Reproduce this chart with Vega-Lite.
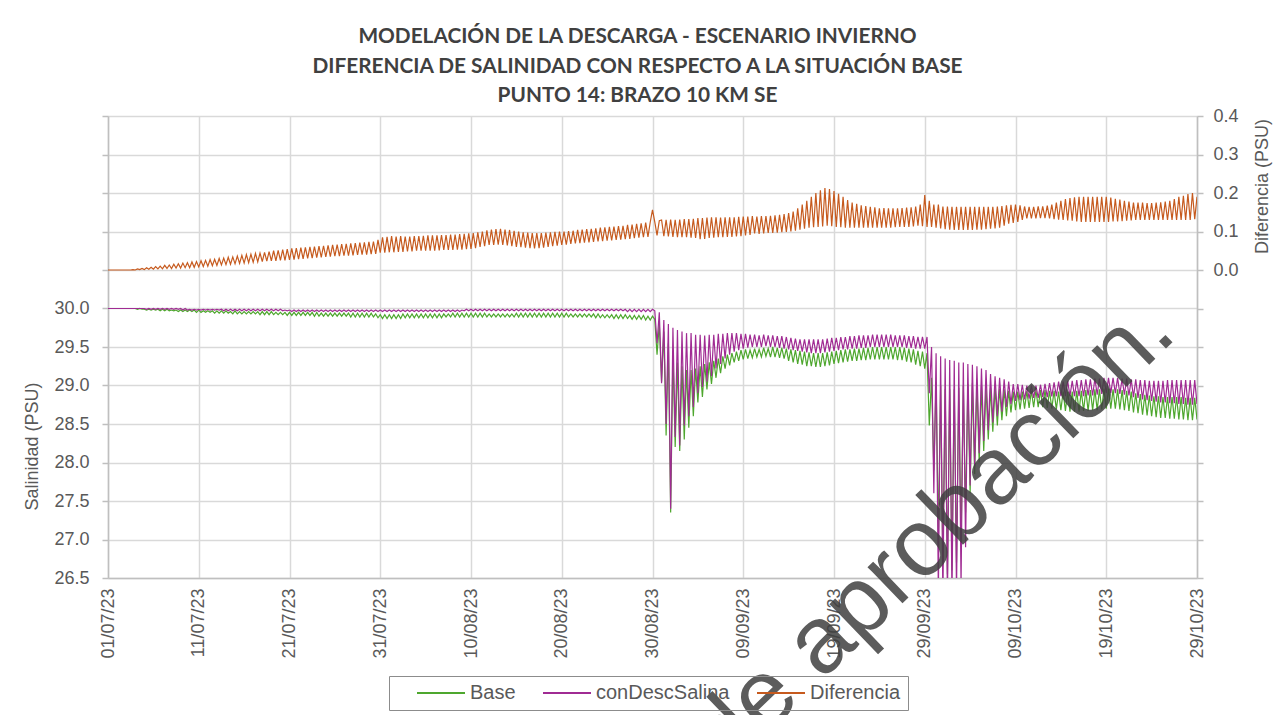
{
"$schema": "https://vega.github.io/schema/vega-lite/v6.json",
"width": 1089,
"height": 462,
"autosize": {"type": "none"},
"padding": {"left": 108, "top": 116, "right": 91, "bottom": 137},
"background": "white",
"title": {
 "text": ["MODELACIÓN DE LA DESCARGA - ESCENARIO INVIERNO", "DIFERENCIA DE SALINIDAD CON RESPECTO A LA SITUACIÓN BASE", "PUNTO 14: BRAZO 10 KM SE"],
 "font": "Lato", "fontSize": 20.8, "fontWeight": "bold", "color": "#404040", "lineHeight": 29.5, "anchor": "middle", "dx": -15, "offset": 0
},
"config": {
 "view": {"stroke": null},
 "axis": {"labelFont": "Liberation Sans", "labelFontSize": 18, "labelColor": "#595959", "titleFont": "Liberation Sans", "titleFontSize": 18, "titleColor": "#595959", "titleFontWeight": "normal", "gridColor": "#d9d9d9", "gridWidth": 1.5, "domainColor": "#bfbfbf", "domainWidth": 1.5, "tickColor": "#bfbfbf", "tickWidth": 1.5, "labelOverlap": false}
},
"datasets": {"serie": [
{"day":0,"b":30,"c":30,"d":0},{"day":0.25,"b":30,"c":30,"d":0},{"day":0.5,"b":30,"c":30,"d":0},{"day":0.75,"b":30,"c":30,"d":0},
{"day":1,"b":30,"c":30,"d":0},{"day":1.25,"b":30,"c":30,"d":0},{"day":1.5,"b":30,"c":30,"d":0},{"day":1.75,"b":30,"c":30,"d":0},
{"day":2,"b":30,"c":30,"d":0},{"day":2.25,"b":30,"c":30,"d":0},{"day":2.5,"b":30,"c":30,"d":0},{"day":2.75,"b":30,"c":30,"d":0.001},
{"day":3,"b":30,"c":30,"d":0},{"day":3.25,"b":29.99,"c":30,"d":0.003},{"day":3.5,"b":30,"c":30,"d":0.001},{"day":3.75,"b":29.99,"c":30,"d":0.004},
{"day":4,"b":29.99,"c":30,"d":0.001},{"day":4.25,"b":29.98,"c":29.99,"d":0.006},{"day":4.5,"b":29.99,"c":30,"d":0.002},{"day":4.75,"b":29.98,"c":29.99,"d":0.007},
{"day":5,"b":29.99,"c":30,"d":0.002},{"day":5.25,"b":29.98,"c":29.99,"d":0.009},{"day":5.5,"b":29.99,"c":30,"d":0.003},{"day":5.75,"b":29.97,"c":29.99,"d":0.01},
{"day":6,"b":29.99,"c":30,"d":0.003},{"day":6.25,"b":29.97,"c":29.99,"d":0.012},{"day":6.5,"b":29.99,"c":30,"d":0.004},{"day":6.75,"b":29.97,"c":29.99,"d":0.013},
{"day":7,"b":29.98,"c":30,"d":0.004},{"day":7.25,"b":29.97,"c":29.99,"d":0.015},{"day":7.5,"b":29.98,"c":30,"d":0.005},{"day":7.75,"b":29.96,"c":29.99,"d":0.016},
{"day":8,"b":29.98,"c":30,"d":0.005},{"day":8.25,"b":29.96,"c":29.98,"d":0.018},{"day":8.5,"b":29.98,"c":30,"d":0.006},{"day":8.75,"b":29.96,"c":29.98,"d":0.019},
{"day":9,"b":29.98,"c":29.99,"d":0.006},{"day":9.25,"b":29.96,"c":29.98,"d":0.021},{"day":9.5,"b":29.98,"c":29.99,"d":0.007},{"day":9.75,"b":29.95,"c":29.98,"d":0.022},
{"day":10,"b":29.98,"c":29.99,"d":0.008},{"day":10.25,"b":29.95,"c":29.98,"d":0.024},{"day":10.5,"b":29.97,"c":29.99,"d":0.009},{"day":10.75,"b":29.95,"c":29.98,"d":0.025},
{"day":11,"b":29.97,"c":29.99,"d":0.01},{"day":11.25,"b":29.95,"c":29.98,"d":0.027},{"day":11.5,"b":29.97,"c":29.99,"d":0.011},{"day":11.75,"b":29.94,"c":29.98,"d":0.028},
{"day":12,"b":29.97,"c":29.99,"d":0.012},{"day":12.25,"b":29.94,"c":29.98,"d":0.03},{"day":12.5,"b":29.97,"c":29.99,"d":0.013},{"day":12.75,"b":29.94,"c":29.97,"d":0.031},
{"day":13,"b":29.97,"c":29.99,"d":0.014},{"day":13.25,"b":29.94,"c":29.97,"d":0.033},{"day":13.5,"b":29.96,"c":29.99,"d":0.015},{"day":13.75,"b":29.93,"c":29.97,"d":0.034},
{"day":14,"b":29.97,"c":29.99,"d":0.016},{"day":14.25,"b":29.93,"c":29.97,"d":0.036},{"day":14.5,"b":29.96,"c":29.99,"d":0.017},{"day":14.75,"b":29.93,"c":29.97,"d":0.038},
{"day":15,"b":29.96,"c":29.99,"d":0.018},{"day":15.25,"b":29.93,"c":29.97,"d":0.04},{"day":15.5,"b":29.96,"c":29.99,"d":0.019},{"day":15.75,"b":29.93,"c":29.97,"d":0.041},
{"day":16,"b":29.96,"c":29.99,"d":0.02},{"day":16.25,"b":29.93,"c":29.97,"d":0.043},{"day":16.5,"b":29.96,"c":29.99,"d":0.021},{"day":16.75,"b":29.92,"c":29.97,"d":0.044},
{"day":17,"b":29.96,"c":29.99,"d":0.022},{"day":17.25,"b":29.92,"c":29.97,"d":0.046},{"day":17.5,"b":29.96,"c":29.99,"d":0.023},{"day":17.75,"b":29.92,"c":29.97,"d":0.048},
{"day":18,"b":29.96,"c":29.99,"d":0.024},{"day":18.25,"b":29.92,"c":29.97,"d":0.05},{"day":18.5,"b":29.95,"c":29.99,"d":0.024},{"day":18.75,"b":29.92,"c":29.97,"d":0.051},
{"day":19,"b":29.95,"c":29.99,"d":0.025},{"day":19.25,"b":29.92,"c":29.97,"d":0.053},{"day":19.5,"b":29.95,"c":29.98,"d":0.025},{"day":19.75,"b":29.91,"c":29.97,"d":0.054},
{"day":20,"b":29.95,"c":29.98,"d":0.026},{"day":20.25,"b":29.91,"c":29.96,"d":0.056},{"day":20.5,"b":29.95,"c":29.98,"d":0.027},{"day":20.75,"b":29.91,"c":29.96,"d":0.057},
{"day":21,"b":29.95,"c":29.98,"d":0.028},{"day":21.25,"b":29.91,"c":29.96,"d":0.058},{"day":21.5,"b":29.95,"c":29.98,"d":0.029},{"day":21.75,"b":29.91,"c":29.96,"d":0.059},
{"day":22,"b":29.95,"c":29.98,"d":0.03},{"day":22.25,"b":29.91,"c":29.96,"d":0.06},{"day":22.5,"b":29.95,"c":29.98,"d":0.031},{"day":22.75,"b":29.9,"c":29.96,"d":0.061},
{"day":23,"b":29.95,"c":29.98,"d":0.032},{"day":23.25,"b":29.9,"c":29.96,"d":0.062},{"day":23.5,"b":29.94,"c":29.98,"d":0.033},{"day":23.75,"b":29.9,"c":29.96,"d":0.063},
{"day":24,"b":29.94,"c":29.98,"d":0.034},{"day":24.25,"b":29.9,"c":29.96,"d":0.064},{"day":24.5,"b":29.94,"c":29.98,"d":0.035},{"day":24.75,"b":29.9,"c":29.96,"d":0.065},
{"day":25,"b":29.94,"c":29.98,"d":0.036},{"day":25.25,"b":29.9,"c":29.96,"d":0.066},{"day":25.5,"b":29.94,"c":29.98,"d":0.036},{"day":25.75,"b":29.9,"c":29.96,"d":0.067},
{"day":26,"b":29.94,"c":29.98,"d":0.037},{"day":26.25,"b":29.9,"c":29.96,"d":0.068},{"day":26.5,"b":29.94,"c":29.98,"d":0.037},{"day":26.75,"b":29.89,"c":29.96,"d":0.069},
{"day":27,"b":29.94,"c":29.98,"d":0.038},{"day":27.25,"b":29.89,"c":29.96,"d":0.07},{"day":27.5,"b":29.94,"c":29.98,"d":0.039},{"day":27.75,"b":29.89,"c":29.96,"d":0.071},
{"day":28,"b":29.94,"c":29.98,"d":0.04},{"day":28.25,"b":29.89,"c":29.96,"d":0.072},{"day":28.5,"b":29.94,"c":29.98,"d":0.04},{"day":28.75,"b":29.89,"c":29.96,"d":0.073},
{"day":29,"b":29.94,"c":29.98,"d":0.041},{"day":29.25,"b":29.89,"c":29.96,"d":0.074},{"day":29.5,"b":29.93,"c":29.98,"d":0.042},{"day":29.75,"b":29.88,"c":29.96,"d":0.078},
{"day":30,"b":29.92,"c":29.98,"d":0.045},{"day":30.25,"b":29.87,"c":29.96,"d":0.085},{"day":30.5,"b":29.92,"c":29.98,"d":0.045},{"day":30.75,"b":29.87,"c":29.96,"d":0.086},
{"day":31,"b":29.92,"c":29.98,"d":0.046},{"day":31.25,"b":29.87,"c":29.96,"d":0.088},{"day":31.5,"b":29.92,"c":29.98,"d":0.046},{"day":31.75,"b":29.87,"c":29.96,"d":0.087},
{"day":32,"b":29.92,"c":29.98,"d":0.047},{"day":32.25,"b":29.87,"c":29.96,"d":0.088},{"day":32.5,"b":29.93,"c":29.98,"d":0.047},{"day":32.75,"b":29.88,"c":29.96,"d":0.087},
{"day":33,"b":29.93,"c":29.98,"d":0.048},{"day":33.25,"b":29.88,"c":29.96,"d":0.087},{"day":33.5,"b":29.93,"c":29.98,"d":0.048},{"day":33.75,"b":29.88,"c":29.96,"d":0.088},
{"day":34,"b":29.93,"c":29.98,"d":0.05},{"day":34.25,"b":29.88,"c":29.96,"d":0.088},{"day":34.5,"b":29.93,"c":29.98,"d":0.05},{"day":34.75,"b":29.88,"c":29.96,"d":0.089},
{"day":35,"b":29.93,"c":29.98,"d":0.05},{"day":35.25,"b":29.88,"c":29.96,"d":0.09},{"day":35.5,"b":29.93,"c":29.98,"d":0.05},{"day":35.75,"b":29.88,"c":29.96,"d":0.09},
{"day":36,"b":29.93,"c":29.98,"d":0.05},{"day":36.25,"b":29.88,"c":29.96,"d":0.09},{"day":36.5,"b":29.93,"c":29.98,"d":0.051},{"day":36.75,"b":29.88,"c":29.96,"d":0.091},
{"day":37,"b":29.93,"c":29.98,"d":0.052},{"day":37.25,"b":29.89,"c":29.96,"d":0.091},{"day":37.5,"b":29.93,"c":29.98,"d":0.052},{"day":37.75,"b":29.89,"c":29.96,"d":0.092},
{"day":38,"b":29.94,"c":29.98,"d":0.052},{"day":38.25,"b":29.89,"c":29.96,"d":0.092},{"day":38.5,"b":29.94,"c":29.98,"d":0.053},{"day":38.75,"b":29.89,"c":29.96,"d":0.093},
{"day":39,"b":29.94,"c":29.98,"d":0.053},{"day":39.25,"b":29.89,"c":29.97,"d":0.094},{"day":39.5,"b":29.94,"c":29.99,"d":0.054},{"day":39.75,"b":29.89,"c":29.97,"d":0.095},
{"day":40,"b":29.94,"c":29.99,"d":0.055},{"day":40.25,"b":29.89,"c":29.97,"d":0.096},{"day":40.5,"b":29.94,"c":29.99,"d":0.057},{"day":40.75,"b":29.89,"c":29.97,"d":0.098},
{"day":41,"b":29.94,"c":29.99,"d":0.06},{"day":41.25,"b":29.89,"c":29.97,"d":0.1},{"day":41.5,"b":29.94,"c":29.99,"d":0.062},{"day":41.75,"b":29.89,"c":29.97,"d":0.103},
{"day":42,"b":29.93,"c":29.99,"d":0.065},{"day":42.25,"b":29.89,"c":29.97,"d":0.105},{"day":42.5,"b":29.93,"c":29.99,"d":0.065},{"day":42.75,"b":29.89,"c":29.97,"d":0.106},
{"day":43,"b":29.93,"c":29.99,"d":0.066},{"day":43.25,"b":29.89,"c":29.97,"d":0.107},{"day":43.5,"b":29.93,"c":29.99,"d":0.065},{"day":43.75,"b":29.89,"c":29.97,"d":0.105},
{"day":44,"b":29.93,"c":29.99,"d":0.064},{"day":44.25,"b":29.89,"c":29.97,"d":0.104},{"day":44.5,"b":29.93,"c":29.99,"d":0.062},{"day":44.75,"b":29.89,"c":29.97,"d":0.102},
{"day":45,"b":29.94,"c":29.99,"d":0.06},{"day":45.25,"b":29.89,"c":29.97,"d":0.1},{"day":45.5,"b":29.94,"c":29.99,"d":0.059},{"day":45.75,"b":29.89,"c":29.97,"d":0.098},
{"day":46,"b":29.94,"c":29.99,"d":0.058},{"day":46.25,"b":29.89,"c":29.97,"d":0.097},{"day":46.5,"b":29.94,"c":29.99,"d":0.057},{"day":46.75,"b":29.89,"c":29.97,"d":0.096},
{"day":47,"b":29.94,"c":29.99,"d":0.056},{"day":47.25,"b":29.89,"c":29.97,"d":0.096},{"day":47.5,"b":29.94,"c":29.99,"d":0.057},{"day":47.75,"b":29.89,"c":29.97,"d":0.096},
{"day":48,"b":29.94,"c":29.99,"d":0.058},{"day":48.25,"b":29.89,"c":29.97,"d":0.097},{"day":48.5,"b":29.94,"c":29.99,"d":0.06},{"day":48.75,"b":29.89,"c":29.97,"d":0.098},
{"day":49,"b":29.94,"c":29.99,"d":0.062},{"day":49.25,"b":29.89,"c":29.97,"d":0.099},{"day":49.5,"b":29.94,"c":29.99,"d":0.063},{"day":49.75,"b":29.89,"c":29.97,"d":0.1},
{"day":50,"b":29.94,"c":29.99,"d":0.065},{"day":50.25,"b":29.89,"c":29.97,"d":0.1},{"day":50.5,"b":29.94,"c":29.99,"d":0.066},{"day":50.75,"b":29.89,"c":29.97,"d":0.101},
{"day":51,"b":29.93,"c":29.99,"d":0.068},{"day":51.25,"b":29.89,"c":29.97,"d":0.102},{"day":51.5,"b":29.93,"c":29.99,"d":0.069},{"day":51.75,"b":29.89,"c":29.97,"d":0.104},
{"day":52,"b":29.93,"c":29.99,"d":0.07},{"day":52.25,"b":29.89,"c":29.97,"d":0.105},{"day":52.5,"b":29.93,"c":29.99,"d":0.071},{"day":52.75,"b":29.89,"c":29.97,"d":0.106},
{"day":53,"b":29.93,"c":29.99,"d":0.072},{"day":53.25,"b":29.89,"c":29.97,"d":0.107},{"day":53.5,"b":29.93,"c":29.99,"d":0.073},{"day":53.75,"b":29.88,"c":29.97,"d":0.108},
{"day":54,"b":29.93,"c":29.99,"d":0.074},{"day":54.25,"b":29.88,"c":29.97,"d":0.11},{"day":54.5,"b":29.92,"c":29.99,"d":0.075},{"day":54.75,"b":29.88,"c":29.97,"d":0.111},
{"day":55,"b":29.92,"c":29.99,"d":0.076},{"day":55.25,"b":29.88,"c":29.97,"d":0.112},{"day":55.5,"b":29.92,"c":29.99,"d":0.077},{"day":55.75,"b":29.87,"c":29.97,"d":0.113},
{"day":56,"b":29.92,"c":29.99,"d":0.078},{"day":56.25,"b":29.87,"c":29.97,"d":0.114},{"day":56.5,"b":29.92,"c":29.99,"d":0.079},{"day":56.75,"b":29.87,"c":29.97,"d":0.115},
{"day":57,"b":29.92,"c":29.99,"d":0.08},{"day":57.25,"b":29.87,"c":29.96,"d":0.117},{"day":57.5,"b":29.91,"c":29.99,"d":0.081},{"day":57.75,"b":29.86,"c":29.96,"d":0.118},
{"day":58,"b":29.91,"c":29.99,"d":0.083},{"day":58.25,"b":29.86,"c":29.96,"d":0.12},{"day":58.5,"b":29.91,"c":29.99,"d":0.084},{"day":58.75,"b":29.86,"c":29.96,"d":0.121},
{"day":59,"b":29.91,"c":29.99,"d":0.085},{"day":59.25,"b":29.85,"c":29.96,"d":0.123},{"day":59.5,"b":29.9,"c":29.99,"d":0.086},{"day":59.75,"b":29.85,"c":29.96,"d":0.124},
{"day":60,"b":29.9,"c":29.99,"d":0.156},{"day":60.25,"b":29.86,"c":29.97,"d":0.125},{"day":60.5,"b":29.4,"c":29.55,"d":0.09},{"day":60.75,"b":29.8,"c":29.95,"d":0.128},
{"day":61,"b":29.05,"c":29.03,"d":0.13},{"day":61.25,"b":29.7,"c":29.85,"d":0.088},{"day":61.5,"b":28.35,"c":28.5,"d":0.13},{"day":61.75,"b":29.55,"c":29.8,"d":0.087},
{"day":62,"b":27.35,"c":27.4,"d":0.131},{"day":62.25,"b":29.4,"c":29.75,"d":0.086},{"day":62.5,"b":28.2,"c":28.33,"d":0.13},{"day":62.75,"b":29.3,"c":29.72,"d":0.085},
{"day":63,"b":28.15,"c":28.22,"d":0.131},{"day":63.25,"b":29.25,"c":29.7,"d":0.085},{"day":63.5,"b":28.3,"c":28.48,"d":0.132},{"day":63.75,"b":29.2,"c":29.68,"d":0.085},
{"day":64,"b":28.45,"c":28.6,"d":0.132},{"day":64.25,"b":29.2,"c":29.68,"d":0.084},{"day":64.5,"b":28.6,"c":28.72,"d":0.133},{"day":64.75,"b":29.22,"c":29.66,"d":0.083},
{"day":65,"b":28.78,"c":28.9,"d":0.135},{"day":65.25,"b":29.25,"c":29.66,"d":0.08},{"day":65.5,"b":28.85,"c":28.98,"d":0.135},{"day":65.75,"b":29.28,"c":29.65,"d":0.081},
{"day":66,"b":28.95,"c":29.05,"d":0.136},{"day":66.25,"b":29.3,"c":29.66,"d":0.083},{"day":66.5,"b":29.02,"c":29.12,"d":0.137},{"day":66.75,"b":29.32,"c":29.66,"d":0.084},
{"day":67,"b":29.1,"c":29.22,"d":0.137},{"day":67.25,"b":29.35,"c":29.67,"d":0.085},{"day":67.5,"b":29.16,"c":29.28,"d":0.136},{"day":67.75,"b":29.38,"c":29.67,"d":0.085},
{"day":68,"b":29.22,"c":29.35,"d":0.137},{"day":68.25,"b":29.4,"c":29.68,"d":0.086},{"day":68.5,"b":29.26,"c":29.4,"d":0.137},{"day":68.75,"b":29.42,"c":29.68,"d":0.086},
{"day":69,"b":29.3,"c":29.44,"d":0.137},{"day":69.25,"b":29.44,"c":29.68,"d":0.087},{"day":69.5,"b":29.32,"c":29.46,"d":0.138},{"day":69.75,"b":29.46,"c":29.67,"d":0.088},
{"day":70,"b":29.34,"c":29.48,"d":0.139},{"day":70.25,"b":29.47,"c":29.67,"d":0.09},{"day":70.5,"b":29.35,"c":29.49,"d":0.139},{"day":70.75,"b":29.46,"c":29.66,"d":0.091},
{"day":71,"b":29.36,"c":29.5,"d":0.14},{"day":71.25,"b":29.48,"c":29.66,"d":0.095},{"day":71.5,"b":29.37,"c":29.5,"d":0.139},{"day":71.75,"b":29.47,"c":29.65,"d":0.094},
{"day":72,"b":29.37,"c":29.5,"d":0.14},{"day":72.25,"b":29.49,"c":29.66,"d":0.095},{"day":72.5,"b":29.38,"c":29.51,"d":0.14},{"day":72.75,"b":29.48,"c":29.65,"d":0.096},
{"day":73,"b":29.37,"c":29.5,"d":0.141},{"day":73.25,"b":29.5,"c":29.65,"d":0.096},{"day":73.5,"b":29.37,"c":29.5,"d":0.142},{"day":73.75,"b":29.49,"c":29.64,"d":0.097},
{"day":74,"b":29.36,"c":29.49,"d":0.143},{"day":74.25,"b":29.49,"c":29.64,"d":0.098},{"day":74.5,"b":29.35,"c":29.48,"d":0.145},{"day":74.75,"b":29.48,"c":29.63,"d":0.099},
{"day":75,"b":29.32,"c":29.47,"d":0.148},{"day":75.25,"b":29.47,"c":29.62,"d":0.1},{"day":75.5,"b":29.3,"c":29.46,"d":0.152},{"day":75.75,"b":29.46,"c":29.61,"d":0.102},
{"day":76,"b":29.28,"c":29.45,"d":0.16},{"day":76.25,"b":29.45,"c":29.6,"d":0.105},{"day":76.5,"b":29.27,"c":29.44,"d":0.17},{"day":76.75,"b":29.44,"c":29.6,"d":0.107},
{"day":77,"b":29.25,"c":29.43,"d":0.18},{"day":77.25,"b":29.43,"c":29.6,"d":0.11},{"day":77.5,"b":29.25,"c":29.42,"d":0.19},{"day":77.75,"b":29.42,"c":29.6,"d":0.111},
{"day":78,"b":29.24,"c":29.42,"d":0.2},{"day":78.25,"b":29.42,"c":29.6,"d":0.112},{"day":78.5,"b":29.24,"c":29.42,"d":0.207},{"day":78.75,"b":29.42,"c":29.6,"d":0.113},
{"day":79,"b":29.25,"c":29.43,"d":0.213},{"day":79.25,"b":29.43,"c":29.61,"d":0.115},{"day":79.5,"b":29.26,"c":29.44,"d":0.21},{"day":79.75,"b":29.44,"c":29.62,"d":0.114},
{"day":80,"b":29.28,"c":29.45,"d":0.205},{"day":80.25,"b":29.45,"c":29.62,"d":0.112},{"day":80.5,"b":29.29,"c":29.46,"d":0.198},{"day":80.75,"b":29.46,"c":29.63,"d":0.111},
{"day":81,"b":29.3,"c":29.47,"d":0.19},{"day":81.25,"b":29.47,"c":29.63,"d":0.11},{"day":81.5,"b":29.31,"c":29.47,"d":0.182},{"day":81.75,"b":29.47,"c":29.64,"d":0.11},
{"day":82,"b":29.32,"c":29.48,"d":0.175},{"day":82.25,"b":29.48,"c":29.64,"d":0.11},{"day":82.5,"b":29.32,"c":29.48,"d":0.172},{"day":82.75,"b":29.48,"c":29.65,"d":0.11},
{"day":83,"b":29.33,"c":29.49,"d":0.168},{"day":83.25,"b":29.49,"c":29.65,"d":0.11},{"day":83.5,"b":29.33,"c":29.49,"d":0.166},{"day":83.75,"b":29.49,"c":29.65,"d":0.11},
{"day":84,"b":29.34,"c":29.5,"d":0.164},{"day":84.25,"b":29.5,"c":29.66,"d":0.11},{"day":84.5,"b":29.34,"c":29.5,"d":0.163},{"day":84.75,"b":29.5,"c":29.66,"d":0.11},
{"day":85,"b":29.34,"c":29.5,"d":0.16},{"day":85.25,"b":29.5,"c":29.66,"d":0.11},{"day":85.5,"b":29.34,"c":29.5,"d":0.161},{"day":85.75,"b":29.5,"c":29.66,"d":0.11},
{"day":86,"b":29.34,"c":29.5,"d":0.16},{"day":86.25,"b":29.5,"c":29.66,"d":0.11},{"day":86.5,"b":29.34,"c":29.5,"d":0.16},{"day":86.75,"b":29.5,"c":29.65,"d":0.111},
{"day":87,"b":29.33,"c":29.5,"d":0.16},{"day":87.25,"b":29.5,"c":29.65,"d":0.112},{"day":87.5,"b":29.33,"c":29.5,"d":0.161},{"day":87.75,"b":29.49,"c":29.65,"d":0.112},
{"day":88,"b":29.31,"c":29.49,"d":0.162},{"day":88.25,"b":29.48,"c":29.64,"d":0.112},{"day":88.5,"b":29.3,"c":29.49,"d":0.163},{"day":88.75,"b":29.47,"c":29.64,"d":0.113},
{"day":89,"b":29.27,"c":29.48,"d":0.165},{"day":89.25,"b":29.45,"c":29.63,"d":0.115},{"day":89.5,"b":29.25,"c":29.48,"d":0.17},{"day":89.75,"b":29.44,"c":29.63,"d":0.114},
{"day":90,"b":29.22,"c":29.48,"d":0.195},{"day":90.25,"b":29.42,"c":29.63,"d":0.112},{"day":90.5,"b":28.48,"c":28.9,"d":0.18},{"day":90.75,"b":29.1,"c":29.5,"d":0.112},
{"day":91,"b":27.9,"c":27.6,"d":0.17},{"day":91.25,"b":29.05,"c":29.42,"d":0.11},{"day":91.5,"b":27.05,"c":26.3,"d":0.17},{"day":91.75,"b":29,"c":29.38,"d":0.108},
{"day":92,"b":26.7,"c":26.2,"d":0.165},{"day":92.25,"b":28.95,"c":29.35,"d":0.106},{"day":92.5,"b":26.55,"c":26.2,"d":0.165},{"day":92.75,"b":28.95,"c":29.33,"d":0.105},
{"day":93,"b":26.6,"c":26.25,"d":0.164},{"day":93.25,"b":28.95,"c":29.32,"d":0.104},{"day":93.5,"b":26.7,"c":26.3,"d":0.164},{"day":93.75,"b":28.97,"c":29.3,"d":0.104},
{"day":94,"b":27,"c":26.4,"d":0.164},{"day":94.25,"b":29,"c":29.3,"d":0.104},{"day":94.5,"b":27.35,"c":26.9,"d":0.164},{"day":94.75,"b":29.02,"c":29.28,"d":0.104},
{"day":95,"b":27.6,"c":27.7,"d":0.164},{"day":95.25,"b":29.03,"c":29.27,"d":0.104},{"day":95.5,"b":27.85,"c":27.95,"d":0.164},{"day":95.75,"b":29.02,"c":29.25,"d":0.105},
{"day":96,"b":28,"c":28.12,"d":0.164},{"day":96.25,"b":29,"c":29.22,"d":0.105},{"day":96.5,"b":28.15,"c":28.28,"d":0.164},{"day":96.75,"b":28.98,"c":29.2,"d":0.106},
{"day":97,"b":28.3,"c":28.42,"d":0.164},{"day":97.25,"b":28.97,"c":29.15,"d":0.107},{"day":97.5,"b":28.4,"c":28.52,"d":0.164},{"day":97.75,"b":28.97,"c":29.12,"d":0.108},
{"day":98,"b":28.48,"c":28.6,"d":0.165},{"day":98.25,"b":28.96,"c":29.1,"d":0.11},{"day":98.5,"b":28.55,"c":28.66,"d":0.166},{"day":98.75,"b":28.95,"c":29.08,"d":0.115},
{"day":99,"b":28.6,"c":28.72,"d":0.168},{"day":99.25,"b":28.93,"c":29.05,"d":0.12},{"day":99.5,"b":28.65,"c":28.76,"d":0.169},{"day":99.75,"b":28.92,"c":29.02,"d":0.122},
{"day":100,"b":28.68,"c":28.8,"d":0.17},{"day":100.25,"b":28.92,"c":29.02,"d":0.125},{"day":100.5,"b":28.69,"c":28.81,"d":0.168},{"day":100.75,"b":28.92,"c":29.01,"d":0.13},
{"day":101,"b":28.7,"c":28.82,"d":0.165},{"day":101.25,"b":28.93,"c":29,"d":0.134},{"day":101.5,"b":28.71,"c":28.83,"d":0.164},{"day":101.75,"b":28.93,"c":29,"d":0.134},
{"day":102,"b":28.72,"c":28.84,"d":0.164},{"day":102.25,"b":28.94,"c":29,"d":0.134},{"day":102.5,"b":28.72,"c":28.84,"d":0.165},{"day":102.75,"b":28.94,"c":29.01,"d":0.135},
{"day":103,"b":28.72,"c":28.85,"d":0.165},{"day":103.25,"b":28.94,"c":29.02,"d":0.135},{"day":103.5,"b":28.71,"c":28.85,"d":0.167},{"day":103.75,"b":28.93,"c":29.03,"d":0.134},
{"day":104,"b":28.7,"c":28.86,"d":0.17},{"day":104.25,"b":28.93,"c":29.04,"d":0.132},{"day":104.5,"b":28.69,"c":28.86,"d":0.175},{"day":104.75,"b":28.92,"c":29.05,"d":0.131},
{"day":105,"b":28.68,"c":28.86,"d":0.18},{"day":105.25,"b":28.92,"c":29.05,"d":0.13},{"day":105.5,"b":28.67,"c":28.86,"d":0.184},{"day":105.75,"b":28.92,"c":29.06,"d":0.129},
{"day":106,"b":28.66,"c":28.86,"d":0.187},{"day":106.25,"b":28.92,"c":29.06,"d":0.128},{"day":106.5,"b":28.66,"c":28.86,"d":0.189},{"day":106.75,"b":28.93,"c":29.07,"d":0.126},
{"day":107,"b":28.66,"c":28.86,"d":0.19},{"day":107.25,"b":28.93,"c":29.07,"d":0.125},{"day":107.5,"b":28.67,"c":28.86,"d":0.19},{"day":107.75,"b":28.94,"c":29.08,"d":0.125},
{"day":108,"b":28.67,"c":28.87,"d":0.19},{"day":108.25,"b":28.94,"c":29.08,"d":0.125},{"day":108.5,"b":28.68,"c":28.87,"d":0.19},{"day":108.75,"b":28.95,"c":29.09,"d":0.125},
{"day":109,"b":28.68,"c":28.88,"d":0.19},{"day":109.25,"b":28.95,"c":29.09,"d":0.125},{"day":109.5,"b":28.69,"c":28.89,"d":0.19},{"day":109.75,"b":28.96,"c":29.1,"d":0.125},
{"day":110,"b":28.7,"c":28.9,"d":0.19},{"day":110.25,"b":28.96,"c":29.1,"d":0.125},{"day":110.5,"b":28.7,"c":28.9,"d":0.188},{"day":110.75,"b":28.95,"c":29.1,"d":0.126},
{"day":111,"b":28.7,"c":28.9,"d":0.185},{"day":111.25,"b":28.95,"c":29.1,"d":0.126},{"day":111.5,"b":28.69,"c":28.89,"d":0.183},{"day":111.75,"b":28.94,"c":29.09,"d":0.127},
{"day":112,"b":28.68,"c":28.88,"d":0.18},{"day":112.25,"b":28.93,"c":29.09,"d":0.128},{"day":112.5,"b":28.67,"c":28.87,"d":0.178},{"day":112.75,"b":28.92,"c":29.08,"d":0.129},
{"day":113,"b":28.65,"c":28.85,"d":0.175},{"day":113.25,"b":28.9,"c":29.08,"d":0.13},{"day":113.5,"b":28.64,"c":28.84,"d":0.175},{"day":113.75,"b":28.89,"c":29.07,"d":0.13},
{"day":114,"b":28.62,"c":28.82,"d":0.175},{"day":114.25,"b":28.88,"c":29.07,"d":0.13},{"day":114.5,"b":28.61,"c":28.81,"d":0.174},{"day":114.75,"b":28.87,"c":29.06,"d":0.13},
{"day":115,"b":28.6,"c":28.8,"d":0.174},{"day":115.25,"b":28.86,"c":29.06,"d":0.13},{"day":115.5,"b":28.59,"c":28.79,"d":0.175},{"day":115.75,"b":28.86,"c":29.06,"d":0.13},
{"day":116,"b":28.58,"c":28.78,"d":0.176},{"day":116.25,"b":28.85,"c":29.06,"d":0.13},{"day":116.5,"b":28.58,"c":28.78,"d":0.178},{"day":116.75,"b":28.85,"c":29.07,"d":0.13},
{"day":117,"b":28.57,"c":28.77,"d":0.18},{"day":117.25,"b":28.85,"c":29.07,"d":0.13},{"day":117.5,"b":28.57,"c":28.77,"d":0.184},{"day":117.75,"b":28.85,"c":29.07,"d":0.13},
{"day":118,"b":28.56,"c":28.76,"d":0.19},{"day":118.25,"b":28.85,"c":29.07,"d":0.13},{"day":118.5,"b":28.56,"c":28.76,"d":0.193},{"day":118.75,"b":28.84,"c":29.07,"d":0.13},
{"day":119,"b":28.55,"c":28.75,"d":0.197},{"day":119.25,"b":28.84,"c":29.07,"d":0.13},{"day":119.5,"b":28.55,"c":28.75,"d":0.2},{"day":119.75,"b":28.84,"c":29.07,"d":0.132},
{"day":120,"b":28.56,"c":28.76,"d":0.19}
],
"marca": [{"day": 118, "sal": 29.64, "texto": "Pendiente de aprobación."}]
},
"data": {"name": "serie"},
"encoding": {
 "x": {"field": "day", "type": "quantitative", "scale": {"domain": [0, 120], "nice": false, "zero": false},
  "axis": {"values": [0,10,20,30,40,50,60,70,80,90,100,110,120], "labelExpr": "timeFormat(datetime(2023, 6, 1 + datum.value), '%d/%m/%y')", "labelAngle": 270, "labelAlign": "right", "labelBaseline": "middle", "ticks": false, "labelPadding": 10, "grid": true, "title": null, "labelFlush": false, "labelOverlap": false}}
},
"layer": [
 {
  "layer": [
   {
    "transform": [{"fold": ["b", "c"], "as": ["serie", "val"]}],
    "mark": {"type": "line", "strokeWidth": 1.2, "clip": true},
    "encoding": {
     "y": {"field": "val", "type": "quantitative", "scale": {"domain": [26.5, 32.5], "nice": false, "zero": false},
      "axis": {"values": [26.5,27,27.5,28,28.5,29,29.5,30,30.5,31,31.5,32,32.5], "labelExpr": "datum.value <= 30.001 ? format(datum.value, '.1f') : ''", "title": "Salinidad (PSU)", "titleX": -76, "titleY": 330, "titleAngle": 270, "titleAlign": "center", "titleBaseline": "middle", "tickSize": 6, "labelPadding": 13, "grid": true, "labelOverlap": false}},
     "color": {"field": "serie", "type": "nominal", "scale": {"domain": ["b", "c", "d"], "range": ["#4EA72E", "#A02B93", "#C65A1E"]},
      "legend": {"orient": "none", "legendX": 281, "legendY": 560, "direction": "horizontal", "title": null, "symbolType": "M-4,0H4", "symbolSize": 144, "symbolStrokeWidth": 2, "symbolOffset": 35, "labelOffset": 19, "labelFont": "Liberation Sans", "labelFontSize": 20, "labelColor": "#595959", "labelExpr": "datum.label == 'b' ? 'Base' : datum.label == 'c' ? 'conDescSalina' : 'Diferencia'", "strokeColor": "#8c8c8c", "padding": 7, "columnPadding": 6}}
    }
   },
   {
    "data": {"name": "marca"},
    "mark": {"type": "text", "angle": 316, "align": "right", "baseline": "alphabetic", "font": "Liberation Sans", "fontSize": 95, "color": "#404040", "opacity": 0.85},
    "encoding": {
     "x": {"field": "day", "type": "quantitative"},
     "y": {"field": "sal", "type": "quantitative",
      "axis": {"values": [26.5,27,27.5,28,28.5,29,29.5,30,30.5,31,31.5,32,32.5], "labelExpr": "datum.value <= 30.001 ? format(datum.value, '.1f') : ''", "title": "Salinidad (PSU)", "titleX": -76, "titleY": 330, "titleAngle": 270, "titleAlign": "center", "titleBaseline": "middle", "tickSize": 6, "labelPadding": 13, "grid": true, "labelOverlap": false}},
     "text": {"field": "texto"}
    }
   }
  ]
 },
 {
  "mark": {"type": "line", "strokeWidth": 1.2, "clip": true},
  "encoding": {
   "y": {"field": "d", "type": "quantitative", "scale": {"domain": [-0.8, 0.4], "nice": false, "zero": false},
    "axis": {"orient": "right", "values": [-0.8,-0.7,-0.6,-0.5,-0.4,-0.3,-0.2,-0.1,0,0.1,0.2,0.3,0.4], "labelExpr": "datum.value >= -0.001 ? format(datum.value, '.1f') : ''", "title": "Diferencia (PSU)", "titleAngle": 270, "titleX": 65, "titleY": 70, "titleAlign": "center", "titleBaseline": "middle", "grid": false, "tickSize": 6, "labelPadding": 10, "labelOverlap": false}},
   "color": {"datum": "d"}
  }
 }
],
"resolve": {"scale": {"y": "independent"}}
}
